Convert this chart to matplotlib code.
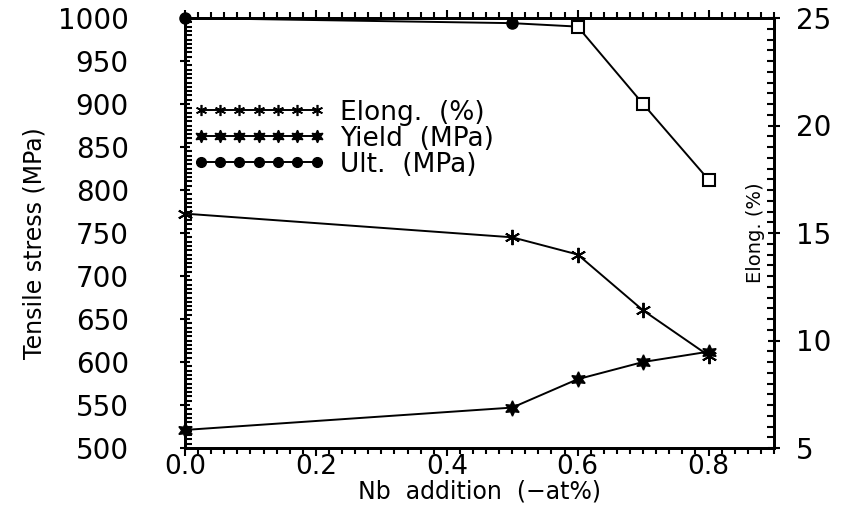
import matplotlib
matplotlib.use("Agg")
import matplotlib.pyplot as plt
from matplotlib.lines import Line2D
from matplotlib.ticker import MultipleLocator

# ---- data ----
nb = [0.0, 0.5, 0.6, 0.7, 0.8]
elong = [15.9, 14.8, 14.0, 11.4, 9.3]          # %
yield_mpa = [521, 547, 580, 600, 612]           # MPa
ult_mpa = [1000, 994, 990, 900, 812]            # MPa

x_ticks = [0.0, 0.2, 0.4, 0.6, 0.8]
left_ticks = [500, 550, 600, 650, 700, 750, 800, 850, 900, 950, 1000]
right_ticks = [5, 10, 15, 20, 25]

plt.rcParams['font.family'] = ['DejaVu Sans']
W, H = 849, 507
fig = plt.figure(figsize=(W / 100, H / 100), dpi=100)
ax = fig.add_axes([185 / W, 1 - 448 / H, 589 / W, 430 / H])
ax2 = ax.twinx()

lw = 1.4
ast = (6, 2, 0)     # asterisk
star = (6, 1, 0)    # star

# Elong on right axis
ax2.plot(nb, elong, color='black', lw=lw, marker=ast, ms=11, mew=1.4, clip_on=False)
# Yield on left axis
ax.plot(nb, yield_mpa, color='black', lw=lw, marker=star, ms=11, clip_on=False)
# Ult on left axis: line, filled circles where it rides the top, open squares below
ax.plot(nb, ult_mpa, color='black', lw=lw, clip_on=False)
ax.plot(nb[:2], ult_mpa[:2], ls='none', marker='o', color='black', ms=8, clip_on=False)
ax.plot(nb[2:], ult_mpa[2:], ls='none', marker='s', mfc='white', mec='black', mew=1.5, ms=8,
        clip_on=False)

ax.set_xlim(0, 0.9)
ax.set_ylim(500, 1000)
ax2.set_ylim(5, 25)

ax.set_xticks(x_ticks)
ax.set_xticklabels([f"{v:.1f}" for v in x_ticks])
ax.set_yticks(left_ticks)
ax2.set_yticks(right_ticks)
ax.xaxis.set_minor_locator(MultipleLocator(0.02))
ax.yaxis.set_minor_locator(MultipleLocator(5))
ax2.yaxis.set_minor_locator(MultipleLocator(0.5))

for a in (ax, ax2):
    for s in a.spines.values():
        s.set_linewidth(2.0)

tfs = 20
ax.tick_params(axis='x', which='both', direction='out', top=True, bottom=True,
               labelsize=19, pad=-2, width=1.5)
ax.tick_params(axis='x', which='major', length=6)
ax.tick_params(axis='x', which='minor', length=4)
ax.tick_params(axis='y', which='both', direction='in', labelsize=tfs, pad=37, width=1.5)
ax.tick_params(axis='y', which='major', length=7, direction='inout')
ax.tick_params(axis='y', which='minor', length=5)
ax2.tick_params(axis='y', which='both', direction='in', labelsize=tfs, pad=12, width=1.5)
ax2.tick_params(axis='y', which='major', length=8, direction='inout')
ax2.tick_params(axis='y', which='minor', length=5)

ax.set_xlabel("Nb  addition  (\u2212at%)", fontsize=17, labelpad=0)
ax.set_ylabel("Tensile stress (MPa)", fontsize=17,
              family=['Liberation Sans Narrow', 'DejaVu Sans'])
ax.yaxis.set_label_coords(-0.235, 0.477)
ax2.set_ylabel("Elong. (%)", fontsize=14, family=['Liberation Sans Narrow', 'DejaVu Sans'])
ax2.yaxis.set_label_coords(0.952, 0.50)

handles = [
    Line2D([], [], color='black', lw=lw, marker=ast, ms=8, mew=1.2),
    Line2D([], [], color='black', lw=lw, marker=star, ms=9),
    Line2D([], [], color='black', lw=lw, marker='o', ms=7),
]
labels = ["Elong.  (%)", "Yield  (MPa)", "Ult.  (MPa)"]
leg = ax.legend(handles, labels, loc='upper left', bbox_to_anchor=(-0.005, 0.835),
                frameon=False, numpoints=7, handlelength=5.0, handletextpad=0.6,
                labelspacing=0.0, borderaxespad=0.0, fontsize=19)

fig.savefig("out.png", dpi=100)
